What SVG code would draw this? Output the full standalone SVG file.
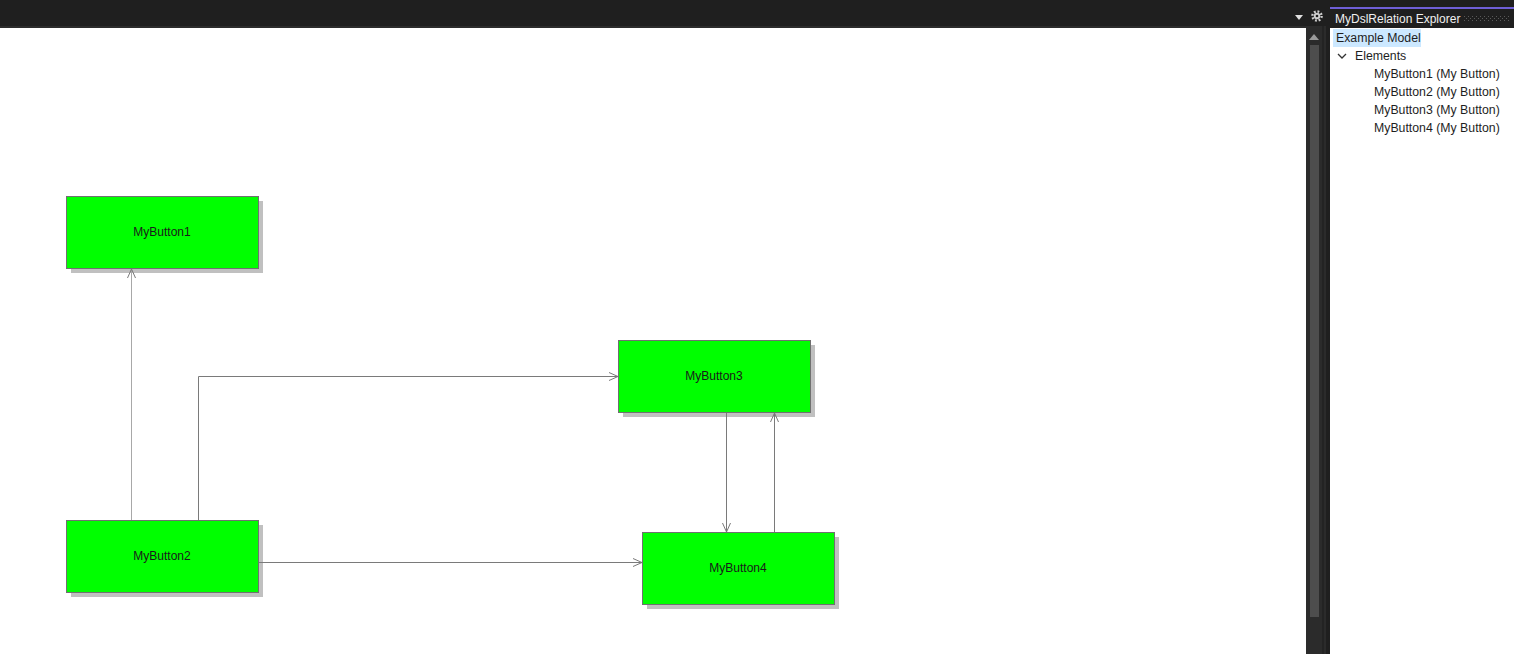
<svg xmlns="http://www.w3.org/2000/svg" width="1514" height="654" viewBox="0 0 1514 654">
<style>
.node rect.box{fill:#00ff00;stroke:#707070;stroke-width:1}
.node rect.sh{fill:#c0c0c0}
.node text{font-family:"Liberation Sans",Arial,sans-serif;font-size:12px;fill:#1a1a1a;text-anchor:middle}
.conn path{fill:none;stroke:#7a7a7a;stroke-width:1}
.tree{font-family:"Liberation Sans",Arial,sans-serif;font-size:12.3px;fill:#1e1e1e}
</style>
<defs>
<marker id="arr" viewBox="0 0 10 10" refX="10" refY="5" markerWidth="10" markerHeight="10" markerUnits="userSpaceOnUse" orient="auto">
<path d="M1,1 L10,5 L1,9" fill="none" stroke="#7a7a7a" stroke-width="1"/>
</marker>
<pattern id="grip" width="4" height="4" patternUnits="userSpaceOnUse">
<rect x="0" y="0" width="1" height="1" fill="#5a5a5a"/>
<rect x="2" y="2" width="1" height="1" fill="#5a5a5a"/>
</pattern>
</defs>
<rect x="0" y="0" width="1514" height="654" fill="#ffffff"/>
<!-- top bar -->
<rect x="0" y="0" width="1330" height="26" fill="#1f1f1f"/>
<rect x="0" y="26" width="1306" height="2" fill="#2c2c2c"/>
<path d="M1295,15 L1303,15 L1299,20 Z" fill="#e0e0e0"/>
<circle cx="1317" cy="16" r="4.6" fill="none" stroke="#d0d0d0" stroke-width="2.4" stroke-dasharray="1.8 1.8"/>
<circle cx="1317" cy="16" r="3.2" fill="#d0d0d0"/>
<circle cx="1317" cy="16" r="1.3" fill="#1f1f1f"/>
<!-- scrollbar strip -->
<rect x="1306" y="26" width="24" height="628" fill="#2b2b2b"/>
<rect x="1322" y="26" width="2" height="628" fill="#232323"/>
<rect x="1326" y="26" width="4" height="628" fill="#1f1f1f"/>
<path d="M1309,40 L1319,40 L1314,34 Z" fill="#9a9a9a"/>
<rect x="1310" y="45" width="9" height="572" fill="#4d4d4d"/>
<!-- right panel -->
<rect x="1330" y="0" width="184" height="28" fill="#1f1f1f"/>
<rect x="1330" y="7" width="184" height="2" fill="#6f5fd8"/>
<text x="1335" y="23" font-family="Liberation Sans,Arial,sans-serif" font-size="12" fill="#f0f0f0">MyDslRelation Explorer</text>
<rect x="1464" y="16" width="46" height="6" fill="url(#grip)"/>
<rect x="1331" y="28" width="183" height="626" fill="#ffffff"/>
<rect x="1333" y="29" width="88" height="18" fill="#cce8ff"/>
<text class="tree" x="1336" y="42">Example Model</text>
<path d="M1338,54 L1342,58 L1346,54" fill="none" stroke="#333333" stroke-width="1.3"/>
<text class="tree" x="1355" y="60">Elements</text>
<text class="tree" x="1374" y="78">MyButton1 (My Button)</text>
<text class="tree" x="1374" y="96">MyButton2 (My Button)</text>
<text class="tree" x="1374" y="114">MyButton3 (My Button)</text>
<text class="tree" x="1374" y="132">MyButton4 (My Button)</text>
<!-- nodes -->
<g id="MyButton1" class="node">
<rect class="sh" x="71" y="201" width="192" height="72"/>
<rect class="box" x="66.5" y="196.5" width="192" height="72"/>
<text x="162" y="236">MyButton1</text>
</g>
<g id="MyButton2" class="node">
<rect class="sh" x="71" y="525" width="192" height="72"/>
<rect class="box" x="66.5" y="520.5" width="192" height="72"/>
<text x="162" y="560">MyButton2</text>
</g>
<g id="MyButton3" class="node">
<rect class="sh" x="623" y="345" width="192" height="72"/>
<rect class="box" x="618.5" y="340.5" width="192" height="72"/>
<text x="714" y="380">MyButton3</text>
</g>
<g id="MyButton4" class="node">
<rect class="sh" x="647" y="537" width="192" height="72"/>
<rect class="box" x="642.5" y="532.5" width="192" height="72"/>
<text x="738" y="572">MyButton4</text>
</g>
<!-- connectors -->
<g id="connectors" class="conn">
<path d="M131.5,520 L131.5,269" style="stroke:#a8a8a8" marker-end="url(#arr)"/>
<path d="M198.5,520 L198.5,376.5 L618,376.5" marker-end="url(#arr)"/>
<path d="M259,562.5 L642,562.5" marker-end="url(#arr)"/>
<path d="M726.5,413 L726.5,532" marker-end="url(#arr)"/>
<path d="M774.5,532 L774.5,413" marker-end="url(#arr)"/>
</g>
</svg>
